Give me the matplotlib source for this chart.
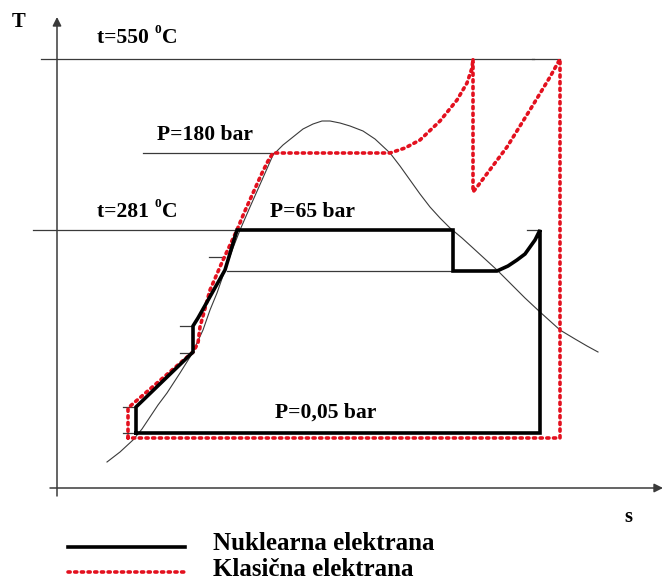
import matplotlib
matplotlib.use('Agg')
import matplotlib.pyplot as plt

# schematic T-s diagram, coordinates in diagram units (T axis drawn inverted)
S_MAX = 663
T_MAX = 580

# saturation dome
dome_s = [107, 120, 133, 142, 150, 158, 167, 180, 190, 197, 203, 210, 217, 225, 233, 240, 250,
          262, 273, 283, 293, 303, 313, 322, 330, 340, 350, 363, 375, 390, 400, 410, 420, 430,
          440, 450, 462, 473, 485, 497, 510, 525, 540, 550, 560, 575, 587, 598]
dome_T = [462, 452, 440, 429, 417, 405, 393, 373, 357, 343, 330, 310, 293, 270, 248, 230, 207,
          180, 155, 145, 137, 129, 124, 121, 121, 123, 126, 131, 139, 153, 166, 180, 194, 207,
          218, 228, 238, 248, 259, 270, 283, 298, 312, 321, 330, 339, 346, 352]

# nuclear plant cycle
nuc_s = [136, 136, 193, 193, 198, 225, 237, 453, 453, 497, 508, 517, 525, 530, 535, 539, 540, 540, 136]
nuc_T = [433, 407, 352, 326, 318, 270, 230, 230, 271, 271, 266, 260, 254, 247, 240, 232, 230, 433, 433]

# classic plant cycle
cls_s = [128, 128, 193, 198, 200, 210, 223, 237, 244, 253, 262, 268, 273, 390, 405, 420, 440, 457,
         467, 472, 473, 473, 477, 492, 507, 520, 533, 550, 560, 560, 128]
cls_T = [438, 408, 352, 343, 327, 290, 260, 230, 213, 193, 173, 161, 153, 153, 148, 140, 121, 100,
         83, 68, 59, 192, 187, 167, 147, 126, 105, 77, 59, 438, 438]

# isobars / isotherms (thin reference lines): (s_start, s_end, T)
thin_lines = [
    (41, 560, 59),     # t=550 C
    (143, 273, 153),   # P=180 bar
    (33, 237, 230),    # t=281 C
    (227, 453, 271),   # lower isobar
]
# little marker ticks: (s_start, s_end, T)
ticks = [(209, 225, 257), (180, 193, 326), (180, 193, 353),
         (123, 136, 407), (123, 136, 433), (527, 540, 230), (532, 534, 59)]

temp_labels = [('t=550', 97, 38), ('t=281', 97, 212)]
labels = [
    ('P=180 bar', 157, 135),
    ('P=65 bar', 270, 212),
    ('P=0,05 bar', 275, 413),
]
legend_names = ['Nuklearna elektrana', 'Klasična elektrana']

RED = '#e3101e'
GREY = '#3a3a3a'
FONT = ['Liberation Serif', 'DejaVu Serif']
FS = 15.6

fig = plt.figure(figsize=(6.63, 5.80), dpi=100)
ax = fig.add_axes([0, 0, 1, 1])
ax.set_xlim(0, S_MAX)
ax.set_ylim(T_MAX, 0)
ax.axis('off')

# axes arrows
arrow = dict(arrowstyle='-|>', lw=1.1, color=GREY, mutation_scale=13, shrinkA=0, shrinkB=0)
ax.annotate('', xy=(57, 17), xytext=(57, 496), arrowprops=arrow)
ax.annotate('', xy=(663, 488), xytext=(50, 488), arrowprops=arrow)

for s0, s1, t in thin_lines:
    ax.plot([s0, s1], [t, t], color=GREY, lw=0.9)
for s0, s1, t in ticks:
    ax.plot([s0, s1], [t, t], color=GREY, lw=0.9)

ax.plot(dome_s, dome_T, color=GREY, lw=0.8)

ax.plot(cls_s, cls_T, color=RED, lw=2.6, linestyle=(0, (0.6, 1.25)),
        dash_capstyle='round', zorder=3)
ax.plot(nuc_s, nuc_T, color='black', lw=2.6, solid_joinstyle='miter', zorder=4)

txt = dict(family=FONT, weight='bold', color='black', va='center', ha='left')
for text, s, t in labels:
    ax.text(s, t, text, fontsize=FS, **txt)

# temperatures with a small raised "0" before C
for text, s, t in temp_labels:
    main = ax.text(s, t, text + ' ', fontsize=FS, **txt)
    sup = ax.annotate('0', xy=(1, 0.62), xycoords=main, fontsize=FS * 0.62,
                      family=FONT, weight='bold', va='bottom', ha='left')
    ax.annotate('C', xy=(1.15, 0), xycoords=(sup, main), fontsize=FS,
                family=FONT, weight='bold', va='bottom', ha='left')

ax.text(12, 22, 'T', fontsize=FS * 0.95, **txt)
ax.text(624, 517, 's', fontsize=FS * 0.95, **txt)

# legend drawn by hand
ax.plot([68, 185], [547, 547], color='black', lw=2.6)
ax.plot([68, 185], [572, 572], color=RED, lw=2.6, linestyle=(0, (0.6, 1.25)), dash_capstyle='round')
ax.text(213, 543, legend_names[0], fontsize=18, **txt)
ax.text(213, 569, legend_names[1], fontsize=18, **txt)

fig.savefig('out.png', dpi=100)
